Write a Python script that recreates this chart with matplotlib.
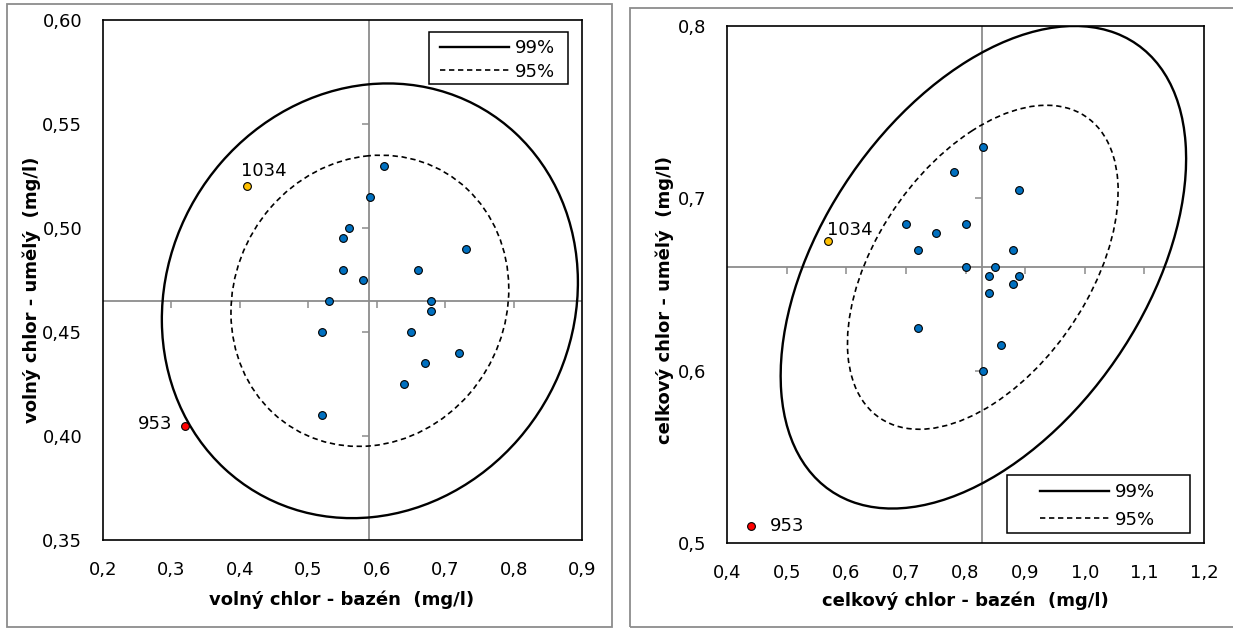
import numpy as np
import matplotlib
matplotlib.use("Agg")
import matplotlib.pyplot as plt
from matplotlib.patches import Ellipse, Rectangle
from matplotlib.lines import Line2D

plt.rcParams['font.family'] = ['DejaVu Sans']

# --- volny chlor (left) ---
free_x = [0.61, 0.59, 0.56, 0.55, 0.55, 0.58, 0.53, 0.52, 0.52,
          0.73, 0.66, 0.68, 0.68, 0.65, 0.72, 0.67, 0.64]
free_y = [0.530, 0.515, 0.500, 0.495, 0.480, 0.475, 0.465, 0.450, 0.410,
          0.490, 0.480, 0.465, 0.460, 0.450, 0.440, 0.435, 0.425]
free_1034 = (0.41, 0.520)
free_953 = (0.32, 0.405)
free_cross = (0.589, 0.465)
# ellipse: center x, center y, half range x, half range y, correlation
free_ell99 = (0.590, 0.465, 0.304, 0.1045, 0.085)
free_ell95 = (0.590, 0.465, 0.203, 0.070, 0.080)
free_xticks = [0.2, 0.3, 0.4, 0.5, 0.6, 0.7, 0.8, 0.9]
free_xlabels = ['0,2', '0,3', '0,4', '0,5', '0,6', '0,7', '0,8', '0,9']
free_yticks = [0.35, 0.40, 0.45, 0.50, 0.55, 0.60]
free_ylabels = ['0,35', '0,40', '0,45', '0,50', '0,55', '0,60']

# --- celkovy chlor (right) ---
tot_x = [0.83, 0.78, 0.89, 0.70, 0.80, 0.75, 0.72, 0.88, 0.80,
         0.85, 0.84, 0.89, 0.88, 0.84, 0.72, 0.86, 0.83]
tot_y = [0.730, 0.715, 0.705, 0.685, 0.685, 0.680, 0.670, 0.670, 0.660,
         0.660, 0.655, 0.655, 0.650, 0.645, 0.625, 0.615, 0.600]
tot_1034 = (0.57, 0.675)
tot_953 = (0.44, 0.510)
tot_cross = (0.828, 0.660)
tot_ell99 = (0.830, 0.660, 0.340, 0.140, 0.45)
tot_ell95 = (0.829, 0.660, 0.227, 0.094, 0.47)
tot_xticks = [0.4, 0.5, 0.6, 0.7, 0.8, 0.9, 1.0, 1.1, 1.2]
tot_xlabels = ['0,4', '0,5', '0,6', '0,7', '0,8', '0,9', '1,0', '1,1', '1,2']
tot_yticks = [0.5, 0.6, 0.7, 0.8]
tot_ylabels = ['0,5', '0,6', '0,7', '0,8']

W, H = 1233, 628
DASH = (0, (3.2, 2.2))


def ellipse(params, **kw):
    cx, cy, ax_, ay_, rho = params
    m = np.array([[ax_**2, rho*ax_*ay_], [rho*ax_*ay_, ay_**2]])
    vals, vecs = np.linalg.eigh(m)
    v = vecs[:, 1]
    ang = np.degrees(np.arctan2(v[1], v[0]))
    return Ellipse((cx, cy), 2*np.sqrt(vals[1]), 2*np.sqrt(vals[0]),
                   angle=ang, fill=False, **kw)


def panel(ax, xs, ys, p1034, p953, cross, e99, e95, xt, xl, yt, yl,
          xlab, ylab, xlab_pos, ylab_pos, lab_offsets, leg_box, leg_anchor,
          leg_space):
    ax.set_xlim(xt[0], xt[-1])
    ax.set_ylim(yt[0], yt[-1])
    ax.set_xticks(xt)
    ax.set_xticklabels(xl)
    ax.set_yticks(yt)
    ax.set_yticklabels(yl)
    ax.tick_params(length=0, labelsize=13)
    ax.tick_params(axis='x', pad=15)
    ax.tick_params(axis='y', pad=15)
    for s in ax.spines.values():
        s.set_color('black')
        s.set_linewidth(1.2)

    # axes crossing inside the plot
    ax.axvline(cross[0], color='#8c8c8c', lw=1.3, zorder=1)
    ax.axhline(cross[1], color='#8c8c8c', lw=1.3, zorder=1)
    ax.plot(xt[1:-1], [cross[1]]*len(xt[1:-1]), ls='', marker=3,
            ms=5, color='#8c8c8c', mew=1.1, zorder=1, clip_on=False)
    ax.plot([cross[0]]*len(yt[1:-1]), yt[1:-1], ls='', marker=0,
            ms=5, color='#8c8c8c', mew=1.1, zorder=1, clip_on=False)

    ax.add_patch(ellipse(e99, ec='black', lw=1.7, zorder=2))
    ax.add_patch(ellipse(e95, ec='black', lw=1.2, ls=DASH, zorder=2))

    ax.plot(xs, ys, ls='', marker='o', ms=5.6, mfc='#0070C0',
            mec='black', mew=0.8, zorder=4)
    ax.plot([p1034[0]], [p1034[1]], ls='', marker='o', ms=5.6,
            mfc='#FFC000', mec='black', mew=0.8, zorder=4)
    ax.plot([p953[0]], [p953[1]], ls='', marker='o', ms=5.6,
            mfc='#FF0000', mec='black', mew=0.8, zorder=4)

    (o1, a1), (o2, a2) = lab_offsets
    ax.annotate('1034', p1034, xytext=o1, textcoords='offset points',
                fontsize=13, ha=a1[0], va=a1[1])
    ax.annotate('953', p953, xytext=o2, textcoords='offset points',
                fontsize=13, ha=a2[0], va=a2[1])

    ax.set_xlabel(xlab, fontsize=13, fontweight='bold')
    ax.set_ylabel(ylab, fontsize=13, fontweight='bold')
    ax.xaxis.set_label_coords(*xlab_pos)
    ax.yaxis.set_label_coords(*ylab_pos)

    handles = [Line2D([], [], color='black', lw=1.7),
               Line2D([], [], color='black', lw=1.2, ls=DASH)]
    ax.legend(handles, ['99%', '95%'], loc='center left',
              bbox_to_anchor=leg_anchor, borderaxespad=0, borderpad=0,
              fontsize=13, handlelength=3.83, handletextpad=0.33,
              labelspacing=leg_space, frameon=False)
    x0, y0, x1, y1 = leg_box
    ax.add_patch(Rectangle((x0, y0), x1-x0, y1-y0, transform=ax.transAxes,
                           fill=True, fc='white', ec='black', lw=1.1,
                           zorder=5))


fig = plt.figure(figsize=(W/100, H/100), dpi=100)

# chart area borders
fig.patches.append(Rectangle((7/W, 1-627/H), (612-7)/W, (627-4)/H,
                             transform=fig.transFigure, fill=False,
                             ec='#8c8c8c', lw=1.3))
fig.patches.append(Rectangle((630/W, 1-627/H), (1240-630)/W, (627-8)/H,
                             transform=fig.transFigure, fill=False,
                             ec='#8c8c8c', lw=1.3))

ax1 = fig.add_axes([103/W, 1-540/H, (582-103)/W, (540-20)/H])
ax2 = fig.add_axes([727/W, 1-543/H, (1204-727)/W, (543-26)/H])

panel(ax1, free_x, free_y, free_1034, free_953, free_cross,
      free_ell99, free_ell95, free_xticks, free_xlabels,
      free_yticks, free_ylabels,
      'volný chlor - bazén  (mg/l)', 'volný chlor - umělý  (mg/l)',
      (0.498, -0.098), (-0.129, 0.481),
      [((-4, 4.5), ('left', 'bottom')), ((-9, 1.5), ('right', 'center'))],
      (0.681, 0.877, 0.971, 0.977), (0.704, 0.923), 0.30)

panel(ax2, tot_x, tot_y, tot_1034, tot_953, tot_cross,
      tot_ell99, tot_ell95, tot_xticks, tot_xlabels,
      tot_yticks, tot_ylabels,
      'celkový chlor - bazén  (mg/l)', 'celkový chlor - umělý  (mg/l)',
      (0.5, -0.093), (-0.111, 0.47),
      [((-1, 1.7), ('left', 'bottom')), ((14, -0.5), ('left', 'center'))],
      (0.587, 0.0193, 0.971, 0.1315), (0.656, 0.0716), 0.52)

fig.savefig('out.png', dpi=100)
